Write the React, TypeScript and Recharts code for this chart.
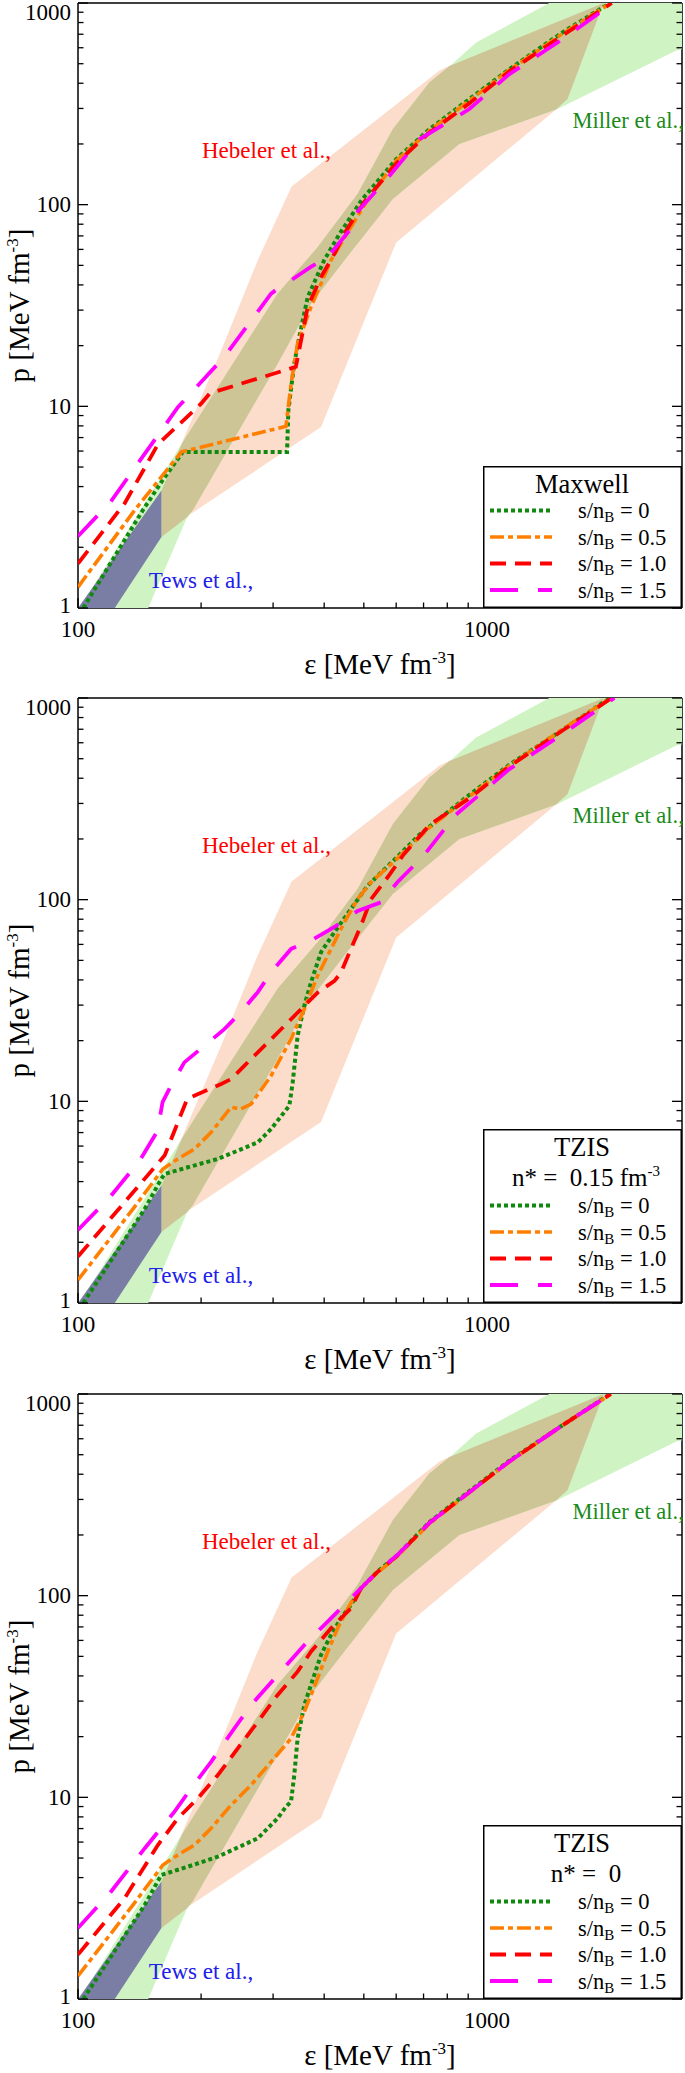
import React from 'react';
import { ScatterChart, Scatter, XAxis, YAxis, ReferenceDot } from 'recharts';

type Pt = [number, number];

const FONT = 'Liberation Serif';
const W = 685;
const H = 695;

// axes
const xTicks = [100, 200, 300, 400, 500, 600, 700, 800, 900, 1000, 2000];
const yTicks = [1, 2, 3, 4, 5, 6, 7, 8, 9, 10, 20, 30, 40, 50, 60, 70, 80, 90, 100, 200, 300, 400, 500, 600, 700, 800, 900, 1000];
const xTickLabels = [100, 1000];
const yTickLabels = [1, 10, 100, 1000];
const majorTicks = [1, 10, 100, 1000];

// constraint regions, polygon vertices [eps, p]
const hebelerBand: Pt[] = [
  [160, 3.83], [180.5, 6.78], [224, 18.9], [275, 52.9], [333, 123], [766, 463], [810, 489], [1930, 1000],
  [1575, 334], [1476, 296], [600, 65], [393, 7.9], [184, 2.83], [160, 2.25],
];
const millerBand: Pt[] = [
  [101, 1], [178.4, 6.41], [307.8, 36.3], [385.6, 61.6], [482.9, 113.4], [588.8, 237.1], [723.7, 404.1],
  [809.8, 485], [941, 637.7], [1421, 1000], [3000, 1000], [3000, 590], [2897, 580], [1476, 295.8],
  [856.6, 199.7], [588.8, 106.6], [448.1, 52.9], [371.3, 32.3], [307.8, 16.28], [190.9, 3.05], [184.2, 2.77], [148.5, 1],
];
// Hebeler and Miller overlap
const overlapBand: Pt[] = [
  [160, 3.83], [179.5, 6.55], [307.8, 36.3], [385.6, 61.6], [482.9, 113.4], [588.8, 237.1], [723.7, 404.1],
  [810, 487], [1930, 1000], [1575, 334], [1476, 296], [856.6, 199.7], [588.8, 106.6], [448.1, 52.9],
  [371.3, 32.3], [307.8, 16.28], [190.9, 3.05], [184.2, 2.8], [160, 2.25],
];
const tewsBand: Pt[] = [[100, 1], [160, 3.83], [160, 2.25], [123, 1]];

// Maxwell
const maxwell00: Pt[] = [
  [103, 1], [144, 3.05], [161, 4.3], [180.5, 5.94], [324.5, 5.94], [326.9, 9.55], [338, 16.3], [347.7, 22.1],
  [364.5, 34.8], [400, 53], [435, 71], [495, 106], [600, 168], [724, 237], [906, 334], [1135, 470], [1531, 715], [2000, 1000],
];
const maxwell05: Pt[] = [
  [100, 1.27], [137.5, 3.05], [179, 5.94], [322.6, 7.96], [331.9, 12.9], [344.4, 20.5], [371.3, 31.1], [415.6, 53],
  [465, 77.5], [510, 105], [600, 165], [724, 233], [906, 328], [1135, 465], [1531, 705], [2010, 1000],
];
const maxwell10: Pt[] = [
  [100, 1.66], [130, 3.3], [157, 6.5], [200, 10.3], [210, 11.6], [341, 15.7], [364.5, 31.1], [393, 43.8],
  [424, 57.2], [448, 71.8], [501, 103], [600, 160], [724, 228], [906, 318], [1135, 458], [1531, 690], [2020, 1000],
];
const maxwell15: Pt[] = [
  [100, 2.27], [120, 3.35], [175.5, 9.9], [228, 17.6], [296.6, 36.2], [307.6, 38.3], [332, 42.2], [371, 49.1],
  [408, 55], [465, 76], [484, 93], [578, 139], [684, 211], [906, 298], [1135, 444], [1531, 662], [1919, 916], [2040, 1000],
];

// TZIS, n* = 0.15 fm^-3
const tzis15_00: Pt[] = [
  [103, 1], [145.5, 2.92], [159.8, 4.12], [162.8, 4.36], [185.6, 4.71], [219.8, 5.18], [275.2, 6.26], [296.6, 7.29],
  [328.8, 9.52], [335, 12.4], [344.5, 21.2], [357.7, 29.8], [371.3, 38.9], [392.8, 54.8], [423.5, 68.9], [465, 89.9],
  [510.7, 117.3], [600, 161], [684, 210], [906, 331], [1135, 467], [1531, 695], [2000, 1000],
];
const tzis15_05: Pt[] = [
  [100, 1.3], [136.2, 2.92], [161.3, 4.62], [175.5, 5.18], [192.7, 5.8], [211.6, 7.02], [236.8, 9.34], [250.5, 9.16],
  [265, 9.7], [296.6, 13.4], [331.9, 20.4], [357.7, 28.7], [385.5, 42], [415.6, 56.9], [448, 77.2], [482.9, 100.8],
  [520.4, 121.9], [600, 158], [724, 228], [906, 325], [1135, 462], [1531, 700], [2010, 1000],
];
const tzis15_10: Pt[] = [
  [100, 1.7], [130, 3.16], [163, 5.4], [185, 10.3], [224, 12.2], [237, 12.9], [255, 15], [286, 18.9], [320, 23.7],
  [358, 29.8], [386, 34.7], [424, 39.6], [440, 43.6], [465, 56.9], [492, 74.3], [520, 100], [578, 133], [625, 167],
  [724, 235], [906, 318], [1135, 458], [1531, 690], [2020, 1000],
];
const tzis15_15: Pt[] = [
  [100, 2.3], [119.5, 3.34], [141.5, 5.08], [155, 6.9], [158, 8], [161, 9.9], [169, 12], [182, 15.6], [204, 18.9],
  [228, 22.8], [250, 27.6], [275, 34.7], [296.6, 43.6], [332, 57], [378, 64], [427, 74], [483, 88], [550, 97],
  [604, 122], [698, 164], [840, 264], [1135, 444], [1531, 662], [2050, 1000],
];

// TZIS, n* = 0
const tzis0_00: Pt[] = [
  [103, 1], [145.5, 2.92], [159.8, 4.12], [185.6, 4.53], [219.8, 5.08], [275.2, 6.26], [307.8, 7.87], [322.6, 8.99],
  [331.9, 9.52], [338, 12.9], [344.4, 19.6], [357.7, 28.7], [371.3, 36.1], [392.8, 50.8], [415.6, 63.8], [439.5, 77.2],
  [465, 89.9], [491.8, 108.7], [540, 131.5], [604, 159], [724, 232], [906, 330], [1135, 467], [1531, 700], [2000, 1000],
];
const tzis0_05: Pt[] = [
  [100, 1.3], [136.2, 2.92], [161.3, 4.62], [175.5, 5.18], [192.7, 5.8], [211.6, 7.02], [236.8, 9.16], [265, 11.5],
  [296.6, 15], [331.9, 19.6], [357.7, 26.6], [385.5, 38.9], [407.9, 52.7], [431.5, 68.9], [457, 86.5], [482.9, 104.7],
  [520.4, 121.9], [604, 157], [724, 228], [906, 325], [1135, 462], [1531, 700], [2010, 1000],
];
const tzis0_10: Pt[] = [
  [100, 1.66], [130, 3.16], [156.8, 5.8], [175.5, 7.87], [196.3, 9.89], [219.8, 12.9], [245.9, 17.5], [275.2, 23.7],
  [307.8, 32.2], [344.4, 42], [371.3, 52.7], [415.6, 68.9], [465, 86.5], [491.8, 108.7], [540, 131], [604, 158],
  [724, 230], [906, 326], [1135, 463], [1531, 700], [2010, 1000],
];
const tzis0_15: Pt[] = [
  [100, 2.25], [119.5, 3.34], [145.5, 5.58], [172.2, 8.49], [189.2, 11.1], [211.6, 15], [241.3, 22], [265, 28.7],
  [307.8, 40.4], [357.7, 56.9], [392.8, 68.9], [439.5, 86.5], [482.9, 104.7], [540, 131.5], [604, 159], [724, 230],
  [906, 326], [1135, 463], [1531, 700], [2010, 1000],
];

const seriesLabels = ['0', '0.5', '1.0', '1.5'];
const seriesColors = ['#0f8a0f', '#ff8000', '#ff0000', '#ff00ff'];
const seriesDashes = ['4 3', '14 4 5 4', '16 9', '28 20'];
const seriesWidths = [4, 3.6, 3.8, 3.8];

const toXY = (pts: Pt[]) => pts.map(([e, p]) => ({ e, p }));

const tickLen = (v: number) => (majorTicks.includes(v) ? 10 : 5.5);

// baseline shift of the y tick labels (edge labels nudged inwards)
const yLabelShift = (v: number) => (v === 1000 ? 17 : v === 1 ? 4.5 : 7.8);

const BottomTick = (props: any) => {
  const { x, y, payload } = props;
  const v = payload.value;
  return (
    <g>
      <line x1={x} x2={x} y1={y} y2={y - tickLen(v)} stroke="#000" strokeWidth={1.3} />
      {xTickLabels.includes(v) && (
        <text x={x} y={y + 29} textAnchor="middle" fontFamily={FONT} fontSize={23} fill="#000">{v}</text>
      )}
    </g>
  );
};

const TopTick = (props: any) => {
  const { x, y, payload } = props;
  return <line x1={x} x2={x} y1={y} y2={y + tickLen(payload.value)} stroke="#000" strokeWidth={1.3} />;
};

const LeftTick = (props: any) => {
  const { x, y, payload } = props;
  const v = payload.value;
  return (
    <g>
      <line x1={x} x2={x + tickLen(v)} y1={y} y2={y} stroke="#000" strokeWidth={1.3} />
      {yTickLabels.includes(v) && (
        <text x={x - 7} y={y + yLabelShift(v)} textAnchor="end" fontFamily={FONT} fontSize={23} fill="#000">{v}</text>
      )}
    </g>
  );
};

const RightTick = (props: any) => {
  const { x, y, payload } = props;
  return <line x1={x} x2={x - tickLen(payload.value)} y1={y} y2={y} stroke="#000" strokeWidth={1.3} />;
};

const XTitle = (props: any) => {
  const { x, y, width } = props.viewBox;
  return (
    <text x={x + width / 2} y={y + 66} textAnchor="middle" fontFamily={FONT} fontSize={29} fill="#000">
      ε [MeV fm<tspan dy={-11} fontSize={17}>-3</tspan><tspan dy={11}>]</tspan>
    </text>
  );
};

const YTitle = (props: any) => {
  const { y, height } = props.viewBox;
  const cy = y + height / 2;
  return (
    <text x={29} y={cy} transform={`rotate(-90, 29, ${cy})`} textAnchor="middle" fontFamily={FONT} fontSize={29} fill="#000">
      p [MeV fm<tspan dy={-11} fontSize={17}>-3</tspan><tspan dy={11}>]</tspan>
    </text>
  );
};

const polygon = (fill: string) => (props: any) => {
  const pts: { x: number; y: number }[] = props.points || [];
  const d = pts.map((p, i) => `${i ? 'L' : 'M'}${p.x},${p.y}`).join(' ') + ' Z';
  return <path d={d} fill={fill} stroke="none" />;
};

const noMarker = () => <g />;

const bands = [
  { data: hebelerBand, fill: '#fcdccb' },
  { data: millerBand, fill: '#d0f3c4' },
  { data: overlapBand, fill: '#cec596' },
  { data: tewsBand, fill: '#7a7ea5' },
];

const axisLine = { stroke: '#000', strokeWidth: 1.5 };

const LegendBox = ({ title, sub }: { title: string; sub?: string }) => {
  const h = sub !== undefined ? 174 : 142;
  const w = 199;
  const rows = [h - 97.5, h - 71, h - 44.5, h - 18];
  return (
    <svg width={w} height={h} style={{ position: 'absolute', left: 483, top: 608 - h }}>
      <rect x={0.75} y={0.75} width={w - 1.5} height={h - 1.5} fill="#fff" stroke="#000" strokeWidth={1.5} />
      <text x={99} y={27} textAnchor="middle" fontFamily={FONT} fontSize={26.5} fill="#000">{title}</text>
      {sub !== undefined && (
        <text x={103} y={57} textAnchor="middle" fontFamily={FONT} fontSize={25} fill="#000" xmlSpace="preserve">
          {'n* =  ' + sub}
          {sub !== '0' && <tspan dy={-10} fontSize={15}>-3</tspan>}
        </text>
      )}
      {seriesLabels.map((s, i) => (
        <g key={s}>
          <line x1={7} x2={69} y1={rows[i]} y2={rows[i]} stroke={seriesColors[i]} strokeWidth={seriesWidths[i]} strokeDasharray={seriesDashes[i]} />
          <text x={95} y={rows[i] + 7.5} fontFamily={FONT} fontSize={22.5} fill="#000">
            s/n<tspan dy={4} fontSize={15}>B</tspan>
            <tspan dy={-4}> = {s}</tspan>
          </text>
        </g>
      ))}
    </svg>
  );
};

const bandLabels = [
  { x: 201, y: 187, text: 'Hebeler et al.,', color: '#ff0000', size: 23 },
  { x: 1620, y: 263, text: 'Miller et al.,', color: '#1a8a1a', size: 22.5 },
  { x: 149, y: 1.375, text: 'Tews et al.,', color: '#2020e8', size: 23 },
];

const Panel = ({ top, curves, title, sub }: { top: number; curves: Pt[][]; title: string; sub?: string }) => (
  <div style={{ position: 'absolute', left: 0, top, width: W, height: H }}>
    <ScatterChart width={W} height={H} margin={{ top: 0, right: 0, bottom: 0, left: 0 }}>
      <XAxis
        xAxisId="b" dataKey="e" type="number" scale="log" domain={[100, 3000]} allowDataOverflow
        ticks={xTicks} interval={0} tickSize={0} tickMargin={0} tickLine={false} tick={BottomTick}
        height={87} axisLine={axisLine} label={XTitle}
      />
      <XAxis
        xAxisId="t" orientation="top" type="number" scale="log" domain={[100, 3000]} allowDataOverflow
        ticks={xTicks} interval={0} tickSize={0} tickMargin={0} tickLine={false} tick={TopTick}
        height={3} axisLine={axisLine}
      />
      <YAxis
        yAxisId="l" dataKey="p" type="number" scale="log" domain={[1, 1000]} allowDataOverflow
        ticks={yTicks} interval={0} tickSize={0} tickMargin={0} tickLine={false} tick={LeftTick}
        width={78} axisLine={axisLine} label={YTitle}
      />
      <YAxis
        yAxisId="r" orientation="right" type="number" scale="log" domain={[1, 1000]} allowDataOverflow
        ticks={yTicks} interval={0} tickSize={0} tickMargin={0} tickLine={false} tick={RightTick}
        width={3} axisLine={axisLine}
      />
      {bands.map((b, i) => (
        <Scatter
          key={`band-${i}`} xAxisId="b" yAxisId="l" data={toXY(b.data)} line={polygon(b.fill)}
          shape={noMarker} legendType="none" isAnimationActive={false}
        />
      ))}
      {curves.map((c, i) => (
        <Scatter
          key={`curve-${i}`} xAxisId="b" yAxisId="l" data={toXY(c)}
          line={{ stroke: seriesColors[i], strokeWidth: seriesWidths[i], strokeDasharray: seriesDashes[i] }}
          shape={noMarker} legendType="none" isAnimationActive={false}
        />
      ))}
      {bandLabels.map((l) => (
        <ReferenceDot
          key={l.text} xAxisId="b" yAxisId="l" x={l.x} y={l.y} r={0} fill="none" stroke="none"
          label={{ value: l.text, position: 'right', offset: 0, fill: l.color, fontSize: l.size, fontFamily: FONT }}
        />
      ))}
    </ScatterChart>
    <LegendBox title={title} sub={sub} />
  </div>
);

export default function App() {
  return (
    <div style={{ position: 'absolute', left: 0, top: 0, width: W, height: 2073, background: '#fff', overflow: 'hidden' }}>
      <Panel top={0} curves={[maxwell00, maxwell05, maxwell10, maxwell15]} title="Maxwell" />
      <Panel top={695} curves={[tzis15_00, tzis15_05, tzis15_10, tzis15_15]} title="TZIS" sub="0.15 fm" />
      <Panel top={1391} curves={[tzis0_00, tzis0_05, tzis0_10, tzis0_15]} title="TZIS" sub="0" />
    </div>
  );
}
